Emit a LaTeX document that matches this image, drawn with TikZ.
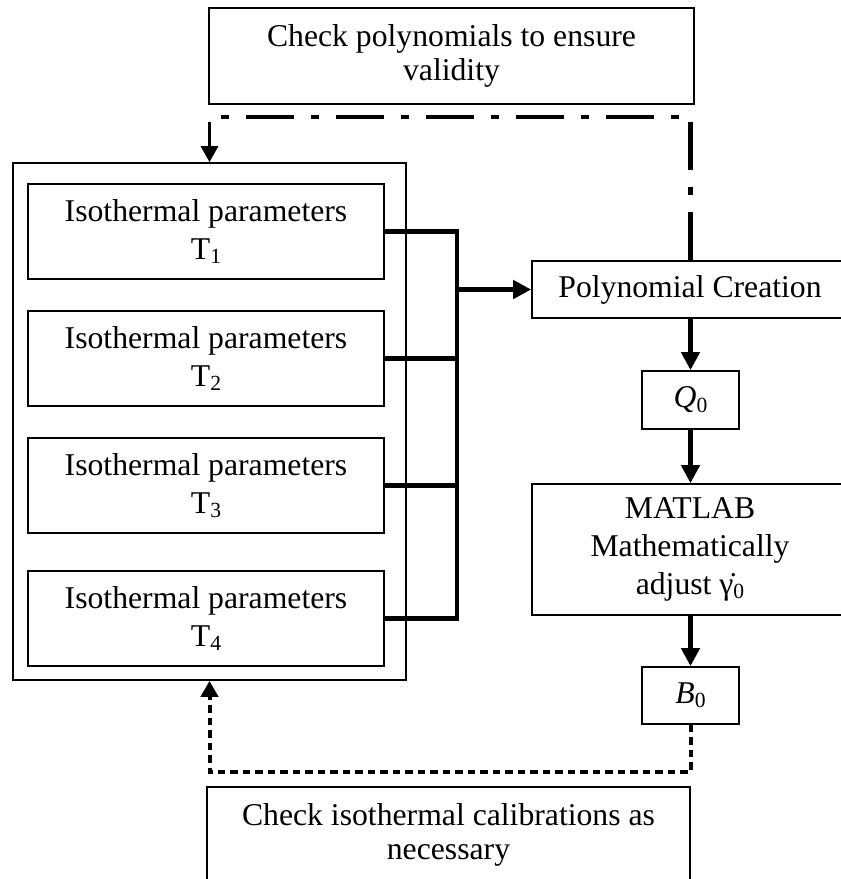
\documentclass[tikz,border=0pt]{standalone}
\usepackage{fontspec}
\setmainfont{Liberation Serif}
\usetikzlibrary{arrows.meta}

% text sizes used in the boxes
\newcommand\mainsz{\fontsize{15.85}{19}\selectfont}
\newcommand\wideboxsz{\fontsize{15.85}{17}\selectfont}
% lowered index at two thirds of the text size
\newcommand\lowidx[1]{\raisebox{-0.3ex}{\fontsize{10.8}{12}\selectfont #1}}

\tikzset{
  box/.style={draw, line width=0.85pt, inner sep=0pt, align=center, font=\mainsz},
  isobox/.style={box, minimum width=178pt, minimum height=47.5pt},
  bus/.style={line width=2.4pt, line join=miter},
  bustip/.style={-{Triangle[length=9pt,width=9pt]}},
  checkline/.style={line width=2.3pt, dash pattern=on 24pt off 8.5pt on 4pt off 8.5pt},
  dotline/.style={line width=2pt, dash pattern=on 3.75pt off 2.5pt},
  fbtip/.style={-{Triangle[length=8pt,width=8.5pt]}}
}

\begin{document}
\begin{tikzpicture}[x=0.5pt,y=-0.5pt]
\clip (0,0) rectangle (841,879);

% check of the polynomials (top)
\node[box, font=\wideboxsz, minimum width=242.5pt, minimum height=48pt] (chkpoly) at (451.5,56)
  {Check polynomials to ensure\\validity};

% group of isothermal parameter sets
\node[draw, line width=0.85pt, minimum width=196.5pt, minimum height=258.5pt, inner sep=0pt] (group) at (209.5,421.5) {};
\node[isobox] (iso1) at (206,231.5) {Isothermal parameters\\T\lowidx{1}};
\node[isobox] (iso2) at (206,358.5) {Isothermal parameters\\T\lowidx{2}};
\node[isobox] (iso3) at (206,485.5) {Isothermal parameters\\T\lowidx{3}};
\node[isobox] (iso4) at (206,618.5) {Isothermal parameters\\T\lowidx{4}};

% processing chain
\node[box, minimum width=158pt, minimum height=28.5pt] (poly) at (690,289.5) {Polynomial Creation};
\node[box, minimum width=48.5pt, minimum height=29pt] (q0) at (690.5,400) {{\itshape Q}\lowidx{0}};
\node[box, minimum width=158pt, minimum height=65.5pt] (matlab) at (690,549.5)
  {MATLAB\\Mathematically\\adjust γ̇\lowidx{0}};
\node[box, minimum width=48.5pt, minimum height=28.5pt] (b0) at (690.5,695.5) {{\itshape B}\lowidx{0}};

% check of the calibrations (bottom)
\node[box, font=\wideboxsz, minimum width=241.5pt, minimum height=48pt] (chkcal) at (448.5,835)
  {Check isothermal calibrations as\\necessary};

% bus collecting the four parameter sets
\coordinate (busx) at (457,0);
\draw[bus] (iso1.east) -| (busx |- iso4.east) -- (iso4.east);
\draw[bus] (iso2.east) -- (iso2.east -| busx);
\draw[bus] (iso3.east) -- (iso3.east -| busx);
\draw[bus, bustip] (poly.west -| busx) -- (poly.west);

% main chain arrows
\draw[bus, bustip] (q0.north |- poly.south) -- (q0.north);
\draw[bus, bustip] (q0.south) -- (q0.south |- matlab.north);
\draw[bus, bustip] (b0.north |- matlab.south) -- (b0.north);

% polynomial check loop (dash-dot)
\coordinate (loopcorner) at (group.north |- 0,117);
\draw[checkline] (q0.north |- poly.north) -- (q0.north |- loopcorner) -- (loopcorner);
\draw[line width=1.5pt, fbtip] ([yshift=-2.5pt]loopcorner) -- (group.north);

% calibration check loop (dotted)
\coordinate (calrow) at (0,772);
\draw[dotline, fbtip] (b0.south) -- (b0.south |- calrow) -- (group.south |- calrow) -- (group.south);
\end{tikzpicture}
\end{document}
